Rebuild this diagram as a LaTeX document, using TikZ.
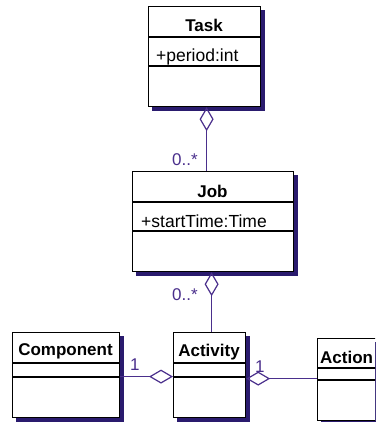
\documentclass[tikz,border=0pt]{standalone}
\usepackage{fontspec}
\setmainfont{Liberation Sans}
\usetikzlibrary{arrows.meta,backgrounds}
\definecolor{linec}{HTML}{4A2F8C}
\definecolor{shad}{HTML}{2A1B6E}
\begin{document}
\begin{tikzpicture}[x=1pt,y=-1pt,
 cls/.style={draw=black, line width=1.2pt, fill=white, inner sep=0pt, anchor=north west},
 sep/.style={draw=black, line width=1.1pt},
 shadowbox/.style={fill=shad},
 ttl/.style={font=\fontsize{17}{20}\selectfont\bfseries, inner sep=0pt, anchor=base},
 attr/.style={font=\fontsize{17.5}{20}\selectfont, inner sep=0pt, anchor=base west},
 mult/.style={font=\fontsize{17}{20}\selectfont, text=linec, inner sep=0pt, anchor=base west},
 agg/.style={draw=linec, line width=1.2pt, -{Diamond[open, length=24pt, width=14pt, line width=1.2pt]}},
]
\useasboundingbox (0,0) rectangle (375,422);
\clip (0,0) rectangle (375,422);
\begin{scope}[on background layer]
\fill[white] (0,0) rectangle (375,422);
\end{scope}

% classes
\node[cls, minimum width=112pt, minimum height=100pt] (task) at (148,6) {};
\node[cls, minimum width=161pt, minimum height=100pt] (job) at (132,171) {};
\node[cls, minimum width=107pt, minimum height=85pt] (component) at (12,332) {};
\node[cls, minimum width=72pt, minimum height=85pt] (activity) at (173,332) {};
\node[cls, minimum width=64pt, minimum height=82pt] (action) at (317,338) {};

% shadows
\begin{scope}[on background layer]
\foreach \n in {task,job,component,activity,action}
  \fill[shadowbox] ([xshift=4pt,yshift=-4pt]\n.north west) rectangle ([xshift=4pt,yshift=-4pt]\n.south east);
\end{scope}

% compartments
\draw[sep] ([yshift=-31pt]task.north west) -- ([yshift=-31pt]task.north east);
\draw[sep] ([yshift=-60pt]task.north west) -- ([yshift=-60pt]task.north east);
\draw[sep] ([yshift=-31pt]job.north west) -- ([yshift=-31pt]job.north east);
\draw[sep] ([yshift=-60pt]job.north west) -- ([yshift=-60pt]job.north east);
\draw[sep] ([yshift=-31pt]component.north west) -- ([yshift=-31pt]component.north east);
\draw[sep] ([yshift=-45pt]component.north west) -- ([yshift=-45pt]component.north east);
\draw[sep] ([yshift=-31pt]activity.north west) -- ([yshift=-31pt]activity.north east);
\draw[sep] ([yshift=-45pt]activity.north west) -- ([yshift=-45pt]activity.north east);
\draw[sep] ([yshift=-30pt]action.north west) -- ([yshift=-30pt]action.north east);
\draw[sep] ([yshift=-42pt]action.north west) -- ([yshift=-42pt]action.north east);

% titles
\node[ttl] (tasktitle) at (204,32) {Task};
\node[ttl] (jobtitle) at (212.5,197) {Job};
\node[ttl] (comptitle) at (65.5,355) {Component};
\node[ttl] (acttitle) at (209,356) {Activity};
\node[ttl, anchor=base west] (actiontitle) at (320,363) {Action};

% attributes
\node[attr] (taskattr) at (156,62) {+period:int};
\node[attr] (jobattr) at (141,227) {+startTime:Time};

% connectors
\draw[agg] ([xshift=-6.5pt]job.north) -- ([xshift=2pt]task.south);
\draw[agg] ([xshift=2pt]activity.north) -- ([xshift=-1.5pt]job.south);
\draw[agg] ([yshift=-1.5pt]component.east) -- ([yshift=-1.5pt]activity.west);
\draw[agg] ([yshift=1pt]action.west) -- ([yshift=-3.5pt]activity.east);

% multiplicities
\node[mult] (m1) at (172,165) {0..*};
\node[mult] (m2) at (172,300) {0..*};
\node[mult] (m3) at (130,370) {1};
\node[mult] (m4) at (255,372) {1};
\end{tikzpicture}
\end{document}
